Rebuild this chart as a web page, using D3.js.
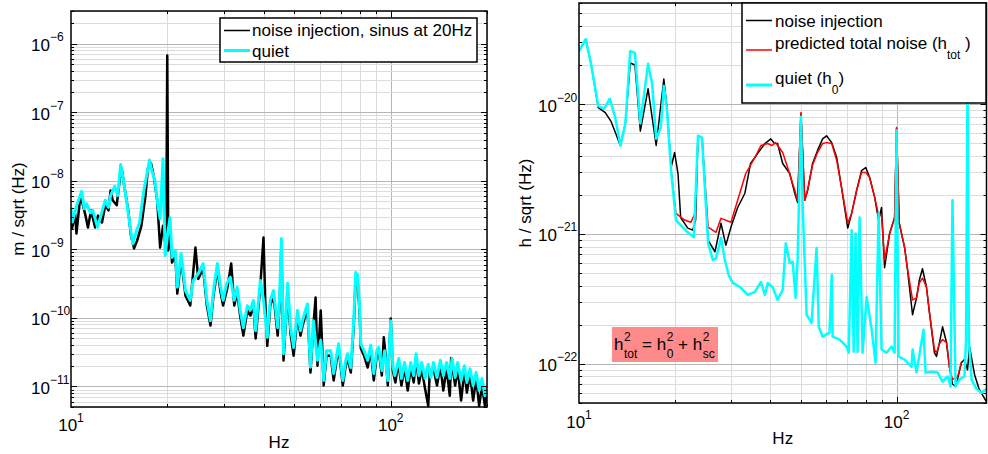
<!DOCTYPE html>
<html>
<head>
<meta charset="utf-8">
<title>Noise injection spectra</title>
<script src="https://cdn.jsdelivr.net/npm/d3@7"></script>
<style>
  body { margin: 0; background: #fff; }
  text { font-family: "Liberation Sans", Arial, Helvetica, sans-serif; fill: #000; white-space: pre; }
</style>
</head>
<body>
<svg id="chart" width="988" height="454"></svg>
<script>
// left panel: displacement spectrum, [Hz, m/sqrt(Hz)]
var injL = [[10,3.44e-9],[10.07,2.0e-9],[10.3,3.33e-9],[10.4,1.7e-9],[10.7,6.1e-9],[10.9,4.4e-9],[11.1,3.1e-9],[11.3,2.08e-9],
  [11.55,3.7e-9],[11.9,2.08e-9],[12.15,3.1e-9],[12.5,2.46e-9],[12.8,4.4e-9],[13.1,3.7e-9],[13.3,7.2e-9],[13.5,5.2e-9],
  [13.9,4.4e-9],[14.25,1.19e-8],[14.4,1.51e-8],[14.75,7.2e-9],[15.1,3.7e-9],[15.4,1.59e-9],[15.75,1.03e-9],[16.1,1.34e-9],
  [16.6,2.2e-9],[17.1,6.1e-9],[17.4,1.51e-8],[17.8,1.79e-8],[18.2,1.08e-8],[18.6,5.2e-9],[19.0,1.06e-9],[19.4,2.2e-9],
  [19.85,9.6e-10],[20.0,6.7e-7],[20.15,9.6e-10],[20.4,1.88e-9],[20.7,6.4e-10],[21.2,8.1e-10],[21.5,2.26e-10],[22.1,7.3e-10],
  [22.8,2.11e-10],[23.6,1.51e-10],[24.5,1.06e-9],[25.0,3.7e-10],[25.9,5.2e-10],[26.6,1.51e-10],[27.3,7.7e-11],[27.9,2.11e-10],
  [28.7,5.2e-10],[29.3,2.5e-10],[29.9,1.51e-10],[30.8,2.67e-10],[31.7,6.2e-10],[32.4,1.51e-10],[33.1,2.34e-10],[33.8,1.08e-10],
  [34.6,5.5e-11],[35.6,1.28e-10],[36.4,1.08e-10],[37.2,1.51e-10],[37.8,5.0e-11],[39.1,2.96e-10],[40.0,1.49e-9],[40.5,1.79e-10],
  [41.1,3.9e-11],[42.0,1.51e-10],[43.0,2.11e-10],[44.3,5.5e-11],[44.9,1.51e-10],[45.5,1.13e-9],[46.2,2.38e-11],[46.9,7.7e-11],
  [47.6,2.5e-10],[48.6,5.9e-11],[49.7,2.8e-11],[51.1,1.08e-10],[52.2,5.5e-11],[53.0,7.7e-11],[54.1,1.08e-10],[54.9,1.37e-10],
  [56.1,1.59e-11],[57.3,7.7e-11],[58.2,1.98e-10],[59.0,2.0e-11],[60.4,1.28e-10],[61.7,1.03e-11],[63.0,2.8e-11],[64.9,2.8e-11],
  [66.3,1.22e-11],[67.7,2.38e-11],[68.7,3.6e-11],[70.8,1.03e-11],[72.3,2.0e-11],[73.3,2.55e-11],[75.0,1.59e-11],[76.6,7.7e-11],
  [77.7,3.7e-10],[78.8,3.5e-10],[80.0,1.08e-10],[80.6,3.6e-11],[82.5,2.8e-11],[84.7,1.88e-11],[86.6,3.3e-11],[88.5,1.22e-11],
  [90.4,2.8e-11],[91.7,3.3e-11],[93.8,1.44e-11],[95.1,5.2e-11],[96.4,2.8e-11],[97.9,1.03e-11],[100,9.8e-11],[101.5,1.7e-11],
  [103.4,1.14e-11],[105.6,2.23e-11],[108,1.03e-11],[110.5,1.88e-11],[113,8.7e-12],[115.5,1.88e-11],[118,1.14e-11],[120,2.55e-11],
  [122.5,1.1e-11],[125,1.82e-11],[128,9.3e-12],[131,5.2e-12],[132.5,1.7e-11],[136,1.82e-11],[139.5,1.03e-11],[143,2.0e-11],
  [146,8.7e-12],[149.5,1.82e-11],[153,7.3e-12],[154.5,2.6e-11],[159,1.03e-11],[162,1.82e-11],[166,6.2e-12],[170,1.7e-11],
  [173,8.1e-12],[177,1.54e-11],[181,6.2e-12],[185,1.3e-11],[189,5.2e-12],[193,1.03e-11],[197,5.2e-12],[200,7.3e-12]];

var quietL = [[10,4.1e-9],[10.1,2.5e-9],[10.4,4.3e-9],[10.8,7.0e-9],[11.0,3.9e-9],[11.2,4.6e-9],[11.5,3.4e-9],[11.7,3.7e-9],
  [12.1,2.1e-9],[12.4,3.1e-9],[12.8,5.2e-9],[13.1,4.1e-9],[13.3,6.1e-9],[13.7,8.3e-9],[14.0,6.1e-9],[14.3,1.73e-8],
  [14.6,1.0e-8],[14.9,5.2e-9],[15.3,2.2e-9],[15.6,1.2e-9],[16.0,1.8e-9],[16.4,2.5e-9],[16.9,7.2e-9],[17.6,2.0e-8],
  [17.9,1.4e-8],[18.3,1.0e-8],[18.7,4.3e-9],[19.0,2.8e-9],[19.4,2.1e-8],[19.7,8.1e-10],[20.1,1.8e-9],[20.4,2.9e-9],
  [20.7,7.6e-10],[21.2,9.6e-10],[21.5,2.8e-10],[22.1,8.7e-10],[22.8,2.5e-10],[23.6,1.8e-10],[24.1,3.5e-10],[25.0,4.4e-10],
  [25.9,6.2e-10],[26.6,1.8e-10],[27.3,9.1e-11],[27.9,2.5e-10],[28.7,6.2e-10],[29.3,3.0e-10],[29.9,1.8e-10],[30.7,3.2e-10],
  [31.5,3.9e-10],[32.4,1.8e-10],[33.1,2.8e-10],[33.8,1.3e-10],[34.6,7.2e-11],[35.6,1.5e-10],[36.4,1.3e-10],[37.2,1.8e-10],
  [37.8,6.5e-11],[39.1,3.5e-10],[40.0,1.8e-10],[41.1,5.2e-11],[42.0,1.8e-10],[43.0,2.5e-10],[44.3,7.2e-11],[44.9,1.8e-10],
  [45.5,1.44e-9],[46.2,3.0e-11],[46.9,9.1e-11],[47.6,3.2e-10],[48.6,7.2e-11],[49.7,3.7e-11],[51.1,1.28e-10],[52.2,6.5e-11],
  [53.0,9.1e-11],[54.1,1.28e-10],[54.9,1.6e-10],[56.1,1.9e-11],[57.3,9.1e-11],[59.0,2.4e-11],[60.4,4.7e-11],[61.7,1.22e-11],
  [63.0,3.3e-11],[64.9,3.3e-11],[66.3,1.54e-11],[67.7,2.8e-11],[68.7,4.2e-11],[70.8,1.22e-11],[72.3,2.4e-11],[73.3,3.0e-11],
  [75.0,1.88e-11],[76.6,9.1e-11],[77.7,4.6e-10],[78.8,4.2e-10],[80.0,1.28e-10],[80.6,4.2e-11],[82.5,3.3e-11],[84.7,2.4e-11],
  [86.6,4.0e-11],[88.5,1.54e-11],[90.4,3.3e-11],[91.7,3.7e-11],[93.8,1.7e-11],[95.7,3.3e-11],[97.9,1.22e-11],[100,9.1e-11],
  [101.5,2.0e-11],[103,1.44e-11],[106,2.55e-11],[108,1.3e-11],[110.5,2.23e-11],[113,1.22e-11],[115.5,2.23e-11],[118,1.44e-11],
  [120,3.0e-11],[122.5,1.44e-11],[125,2.23e-11],[128,1.3e-11],[131,2.1e-11],[133.5,1.35e-11],[136,2.23e-11],[139.5,1.35e-11],
  [143,2.4e-11],[146,1.44e-11],[149.5,2.23e-11],[153,1.3e-11],[155.5,2.55e-11],[159,1.35e-11],[162,2.23e-11],[166,1.22e-11],
  [170,2.0e-11],[173,1.14e-11],[177,1.8e-11],[181,1.03e-11],[185,1.6e-11],[189,8.7e-12],[193,1.3e-11],[197,7.3e-12],[200,1.03e-11]];

// right panel: strain spectrum, [Hz, 1/sqrt(Hz)]
var injR = [[10,2.56e-20],[10.5,3.16e-20],[10.9,2.07e-20],[11.5,9.4e-21],[12.1,8.6e-21],[12.6,7.4e-21],[13.5,4.8e-21],
  [14.0,7.1e-21],[14.5,2.07e-20],[15.0,2.0e-20],[15.6,6.2e-21],[16.5,1.31e-20],[17.5,4.8e-21],[18.5,1.56e-20],[18.9,9.7e-21],
  [19.5,3.25e-21],[20.0,4.24e-21],[20.5,2.92e-21],[20.9,1.34e-21],[22.0,1.11e-21],[22.8,1.07e-21],[23.3,1.28e-21],[23.7,5.7e-21],
  [24.4,5.5e-21],[25.5,8.97e-22],[26.8,7.3e-22],[28.0,1.21e-21],[29.0,8.2e-22],[30.1,1.13e-21],[31.6,1.6e-21],[33.3,2.06e-21],
  [34.7,3.49e-21],[36.5,4.16e-21],[38.5,4.97e-21],[40.2,5.4e-21],[41.2,5.0e-21],[42.2,4.97e-21],[43.8,3.49e-21],[45.4,3.08e-21],
  [46.1,2.92e-21],[47.8,2.06e-21],[48.8,1.75e-21],[50,8.4e-21],[51.4,1.82e-21],[52.5,2.17e-21],[54.4,3.49e-21],[56.4,4.4e-21],
  [58.5,5.4e-21],[60.2,5.7e-21],[62.5,5.05e-21],[64.8,3.88e-21],[67.1,2.28e-21],[70.2,1.11e-21],[72.2,1.44e-21],[74.9,2.17e-21],
  [77.6,3.08e-21],[80.0,3.25e-21],[82.3,2.72e-21],[85.3,1.92e-21],[87.8,1.28e-21],[89.7,1.6e-21],[91.7,5.5e-22],[95.1,1.01e-21],
  [98.6,1.34e-21],[100,6.5e-21],[102,1.21e-21],[106,7.9e-22],[108,5.6e-22],[112.3,2.39e-22],[115.6,3.22e-22],[118,4.43e-22],
  [120.7,5.4e-22],[124.2,3.91e-22],[127,2.47e-22],[131.6,1.22e-22],[133.6,1.14e-22],[136.5,1.46e-22],[139.6,1.93e-22],
  [143.7,1.46e-22],[146.8,9.4e-23],[150,7e-23],[153.4,6.7e-23],[155.6,7.6e-23],[160,1.02e-22],[163.6,1.08e-22],[167.3,9e-23],
  [169.8,1.36e-22],[176,8.3e-23],[182,6.4e-23],[192,5.1e-23]];

var predR = [[19.5,3.08e-21],[20.2,1.44e-21],[21.5,1.28e-21],[22.5,1.23e-21],[23.2,1.44e-21],[23.7,5.7e-21],[24.4,5.5e-21],
  [25.5,1.13e-21],[27.0,1.03e-21],[28.0,1.32e-21],[30.1,1.23e-21],[31.6,1.82e-21],[33.5,2.92e-21],[35.8,3.88e-21],[37.4,4.8e-21],
  [39.3,4.97e-21],[40.5,4.8e-21],[41.6,5.05e-21],[43.8,4.24e-21],[45.4,3.25e-21],[47.8,2.17e-21],[48.8,1.82e-21],[50,8.6e-21],
  [51.4,1.82e-21],[52.5,2.2e-21],[54.4,3.4e-21],[56.4,4.24e-21],[58.5,4.97e-21],[60.2,5.05e-21],[62.5,4.97e-21],[64.8,3.68e-21],
  [67.1,2.28e-21],[70.2,1.21e-21],[72.2,1.44e-21],[74.9,2.17e-21],[77.6,2.98e-21],[80.0,2.98e-21],[82.3,2.72e-21],[85.3,1.92e-21],
  [87.8,1.39e-21],[89.7,1.39e-21],[91.7,6.3e-22],[95.1,1.01e-21],[98.6,1.32e-21],[100,6.6e-21],[102,1.21e-21],[106,7.9e-22],
  [108,5.6e-22],[112.3,3.11e-22],[115.6,3.22e-22],[118,4.2e-22],[120.7,4.58e-22],[124.2,3.91e-22],[127,2.47e-22],[131.6,1.29e-22],
  [133.6,1.22e-22],[136.5,1.43e-22],[139.6,1.54e-22],[143.7,1.46e-22],[146.8,9.4e-23],[150,7.6e-23],[155.6,7.9e-23],[160,1.02e-22]];

var quietR = [[10,2.56e-20],[10.5,3.16e-20],[10.9,2.07e-20],[11.5,9.7e-21],[12.0,9.2e-21],[12.5,1.10e-20],[13.0,7.9e-21],
  [13.5,4.8e-21],[14.0,7.1e-21],[14.5,2.56e-20],[15.0,2.48e-20],[15.6,7.1e-21],[16.5,2.04e-20],[17.0,1.43e-20],[17.5,5.4e-21],
  [18.1,6.6e-21],[18.5,1.38e-20],[18.9,9.4e-21],[19.5,3.08e-21],[20.2,1.28e-21],[21.2,1.13e-21],[22.0,1.03e-21],[23.0,9.45e-22],
  [23.7,5.7e-21],[24.4,5.5e-21],[25.5,8.5e-22],[26.4,6.3e-22],[27.0,6.5e-22],[28.0,9.3e-22],[28.8,6.3e-22],[29.6,4.83e-22],
  [30.5,4.2e-22],[32.1,3.91e-22],[34.0,3.4e-22],[35.8,3.58e-22],[37.4,4.27e-22],[38.5,3.4e-22],[39.3,4.2e-22],[40.7,3.91e-22],
  [42.2,3.11e-22],[43.8,3.71e-22],[44.8,8.5e-22],[46.1,5.97e-22],[47.1,6.1e-22],[48.1,3.22e-22],[48.8,6.3e-22],[50,8.0e-21],
  [50.6,1.72e-21],[52.1,2.39e-22],[54.0,2.07e-22],[56.0,7.8e-22],[56.9,1.93e-22],[58.5,1.62e-22],[61.5,1.74e-22],[62.5,4.83e-22],
  [62.9,1.62e-22],[66.2,1.54e-22],[69.6,1.36e-22],[70.7,1.22e-22],[72.2,1.07e-21],[73.3,1.24e-22],[74.3,1.01e-21],[75.4,1.24e-22],
  [76.5,1.34e-21],[78.2,1.22e-22],[80.5,3.28e-22],[83.5,1.83e-22],[85.9,1.02e-22],[87.8,1.44e-21],[89.7,1.29e-22],[93.0,1.22e-22],
  [96.5,1.36e-22],[98.6,1.22e-22],[100,6.3e-21],[101.5,1.14e-22],[106,1.08e-22],[111.5,9.5e-23],[112.3,1.29e-22],[115.6,8.6e-23],
  [121.6,1.83e-22],[123.4,8.6e-23],[129.8,8.7e-23],[134.6,8.6e-23],[139.6,7.3e-23],[144.7,8.0e-23],[147.9,6.7e-23],[150,1.82e-21],
  [153.4,6.7e-23],[157.8,7.6e-23],[163.6,8.0e-23],[165.5,1.5e-22],[167.3,1.5e-20],[169,1.5e-22],[172.3,7.6e-23],[178.6,6.4e-23],
  [185,6.0e-23],[192,6.4e-23]];

var svg = d3.select("#chart");
var defs = svg.append("defs");
svg.append("rect").attr("width", 988).attr("height", 454).attr("fill", "#fff");

function isDecade(d) {
  var l = Math.log10(d);
  return Math.abs(l - Math.round(l)) < 1e-6;
}

function drawPanel(p) {
  var x = d3.scaleLog().domain(p.xDomain).range([p.x0, p.x1]);
  var y = d3.scaleLog().domain(p.yDomain).range([p.y1, p.y0]);
  var g = svg.append("g");

  defs.append("clipPath").attr("id", p.id).append("rect")
    .attr("x", p.x0).attr("y", p.y0).attr("width", p.x1 - p.x0).attr("height", p.y1 - p.y0);

  var xAll = x.ticks();
  var xt = xAll.filter(function(d){ return d > p.xDomain[0] * 1.001; });
  var yt = y.ticks();

  // grid, minor first then the decades
  var grid = g.append("g");
  grid.selectAll(".gx").data(xt).join("line")
    .attr("x1", function(d){ return Math.round(x(d)) + 0.5; })
    .attr("x2", function(d){ return Math.round(x(d)) + 0.5; })
    .attr("y1", p.y0).attr("y2", p.y1)
    .attr("stroke", function(d){ return isDecade(d) ? "#b5b5b5" : "#dcdcdc"; });
  grid.selectAll(".gy").data(yt).join("line")
    .attr("y1", function(d){ return Math.round(y(d)) + 0.5; })
    .attr("y2", function(d){ return Math.round(y(d)) + 0.5; })
    .attr("x1", p.x0).attr("x2", p.x1)
    .attr("stroke", function(d){ return isDecade(d) ? "#b5b5b5" : "#dcdcdc"; });

  // traces
  var line = d3.line().x(function(d){ return x(d[0]); }).y(function(d){ return y(d[1]); });
  var traces = g.append("g").attr("clip-path", "url(#" + p.id + ")");
  p.series.forEach(function(s) {
    traces.append("path").datum(s.data).attr("d", line)
      .attr("fill", "none").attr("stroke", s.color).attr("stroke-width", s.width)
      .attr("stroke-linejoin", "round");
  });

  // inward ticks on all four sides
  var tk = g.append("g").attr("stroke", "#000").attr("stroke-width", 1);
  xt.forEach(function(d) {
    var len = isDecade(d) ? 6 : 3, xx = Math.round(x(d)) + 0.5;
    tk.append("line").attr("x1", xx).attr("x2", xx).attr("y1", p.y1).attr("y2", p.y1 - len);
    tk.append("line").attr("x1", xx).attr("x2", xx).attr("y1", p.y0).attr("y2", p.y0 + len);
  });
  yt.forEach(function(d) {
    var len = isDecade(d) ? 6 : 3, yy = Math.round(y(d)) + 0.5;
    tk.append("line").attr("y1", yy).attr("y2", yy).attr("x1", p.x0).attr("x2", p.x0 + len);
    tk.append("line").attr("y1", yy).attr("y2", yy).attr("x1", p.x1).attr("x2", p.x1 - len);
  });

  g.append("rect").attr("x", p.x0).attr("y", p.y0)
    .attr("width", p.x1 - p.x0).attr("height", p.y1 - p.y0)
    .attr("fill", "none").attr("stroke", "#000").attr("stroke-width", 1.5);

  // tick labels 10^n
  xAll.filter(isDecade).forEach(function(d) {
    var t = g.append("text").attr("x", x(d)).attr("y", p.y1 + p.xLabDy)
      .attr("text-anchor", "middle").attr("font-size", 17);
    t.append("tspan").text("10");
    t.append("tspan").attr("font-size", 12).attr("dy", -9).text(Math.round(Math.log10(d)));
  });
  yt.filter(isDecade).forEach(function(d) {
    var t = g.append("text").attr("x", p.yLabX).attr("y", y(d) + 7.5).attr("font-size", 17);
    t.append("tspan").text("10");
    t.append("tspan").attr("font-size", 12).attr("dy", -10).text("\u2212" + (-Math.round(Math.log10(d))));
  });

  g.append("text").attr("x", (p.x0 + p.x1) / 2).attr("y", p.xTitleY)
    .attr("text-anchor", "middle").attr("font-size", 17).text("Hz");
  g.append("text").attr("transform", "translate(" + p.yTitleX + "," + ((p.y0 + p.y1) / 2) + ") rotate(-90)")
    .attr("text-anchor", "middle").attr("font-size", 17).text(p.yTitle);

  return { x: x, y: y, g: g };
}

drawPanel({
  id: "clipL", xDomain: [10, 200], yDomain: [5e-12, 3e-6],
  x0: 71, x1: 487, y0: 11, y1: 407, xLabDy: 24, yLabX: 31,
  xTitleY: 448, yTitleX: 24, yTitle: "m / sqrt (Hz)",
  series: [
    { data: injL, color: "#000", width: 2.5 },
    { data: quietL, color: "#00ffff", width: 3 }
  ]
});

drawPanel({
  id: "clipR", xDomain: [10, 192], yDomain: [5e-23, 6e-20],
  x0: 579, x1: 986.5, y0: 3, y1: 403, xLabDy: 25, yLabX: 538,
  xTitleY: 444, yTitleX: 531, yTitle: "h / sqrt (Hz)",
  series: [
    { data: injR, color: "#000", width: 1.5 },
    { data: predR, color: "#ff0000", width: 1.5 },
    { data: quietR, color: "#00ffff", width: 2.5 }
  ]
});

// legends
var legL = svg.append("g");
legL.append("rect").attr("x", 220).attr("y", 18).attr("width", 257).attr("height", 44)
  .attr("fill", "#fff").attr("stroke", "#000").attr("stroke-width", 1.5);
[["noise injection, sinus at 20Hz", "#000", 1.5, 30.5, 36], ["quiet", "#00ffff", 3, 50.5, 57]].forEach(function(e) {
  legL.append("line").attr("x1", 224).attr("x2", 250).attr("y1", e[3]).attr("y2", e[3])
    .attr("stroke", e[1]).attr("stroke-width", e[2]);
  legL.append("text").attr("x", 252).attr("y", e[4]).attr("font-size", 17).text(e[0]);
});

var legR = svg.append("g");
legR.append("rect").attr("x", 742).attr("y", 3).attr("width", 244).attr("height", 100)
  .attr("fill", "#fff").attr("stroke", "#000").attr("stroke-width", 1.5);
[["noise injection", null, "", "#000", 1.5, 20.5, 26.5],
 ["predicted total noise (h", "tot", " )", "#ff0000", 1.5, 50, 49],
 ["quiet (h", "0", ")", "#00ffff", 3, 85, 84]].forEach(function(e) {
  legR.append("line").attr("x1", 746).attr("x2", 772).attr("y1", e[5]).attr("y2", e[5])
    .attr("stroke", e[3]).attr("stroke-width", e[4]);
  var t = legR.append("text").attr("x", 775).attr("y", e[6]).attr("font-size", 17);
  t.append("tspan").text(e[0]);
  if (e[1]) {
    t.append("tspan").attr("font-size", 12).attr("dy", 10).text(e[1]);
    t.append("tspan").attr("dy", -10).text(e[2]);
  }
});

// annotation h_tot^2 = h_0^2 + h_sc^2
var ann = svg.append("g");
ann.append("rect").attr("x", 612).attr("y", 327).attr("width", 106).attr("height", 35).attr("fill", "#ff8a8a");
var pieces = [["h"], ["2", "tot"], [" = h"], ["2", "0"], [" + h"], ["2", "sc"]];
var cx = 614;
pieces.forEach(function(pc) {
  if (pc.length === 1) {
    var t = ann.append("text").attr("x", cx).attr("y", 350).attr("font-size", 17).text(pc[0]);
    cx += t.node().getComputedTextLength();
  } else {
    var a = ann.append("text").attr("x", cx + 0.5).attr("y", 341).attr("font-size", 12).text(pc[0]);
    var b = ann.append("text").attr("x", cx + 0.5).attr("y", 358).attr("font-size", 12).text(pc[1]);
    cx += Math.max(a.node().getComputedTextLength(), b.node().getComputedTextLength()) + 0.5;
  }
});
</script>
</body>
</html>
